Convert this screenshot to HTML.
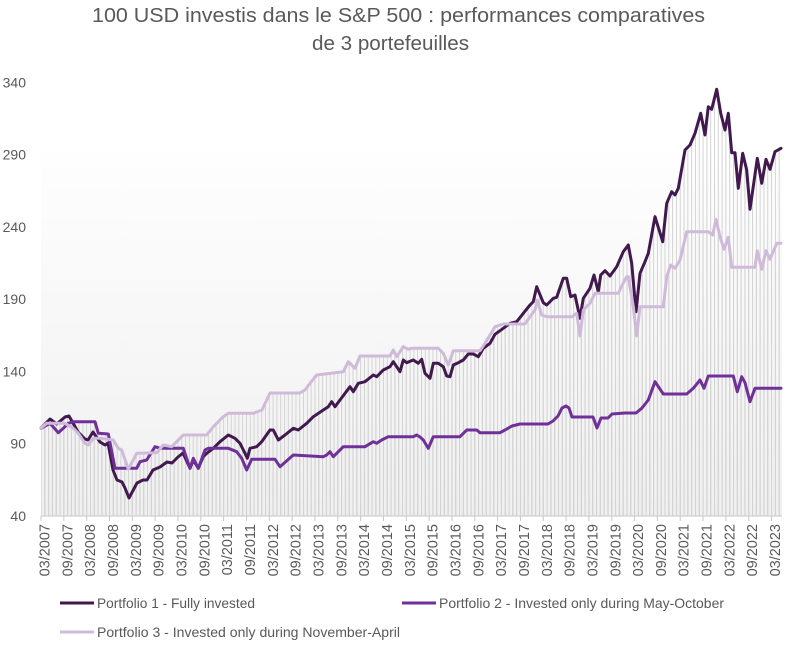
<!DOCTYPE html>
<html><head><meta charset="utf-8"><style>
html,body{margin:0;padding:0;background:#fff;}
svg{display:block;}
text{font-family:"Liberation Sans",sans-serif;fill:#595959;}
</style></head><body>
<svg width="789" height="649" viewBox="0 0 789 649" xmlns="http://www.w3.org/2000/svg">
<defs>
<linearGradient id="bg" x1="0" y1="0" x2="0" y2="1">
<stop offset="0" stop-color="#fefefe"/>
<stop offset="1" stop-color="#f0f0f0"/>
</linearGradient>
<pattern id="dl" patternUnits="userSpaceOnUse" x="40.5" y="0" width="3.805" height="10">
<rect x="0" y="0" width="1" height="10" fill="#d3d3d3"/>
</pattern>
</defs>
<rect x="0" y="0" width="789" height="649" fill="#fff"/>
<rect x="41" y="151" width="741" height="365" fill="url(#bg)"/>

<!-- title -->
<text x="92" y="22" font-size="20" textLength="613" lengthAdjust="spacingAndGlyphs">100 USD investis dans le S&amp;P 500 : performances comparatives</text>
<text x="312" y="50" font-size="20" textLength="157" lengthAdjust="spacingAndGlyphs">de 3 portefeuilles</text>

<!-- drop lines -->
<g fill="url(#dl)" stroke="none">
<polygon points="41,428 50,419 56.7,424 65,417 69,416 73,423 78,432 85,439 88,440 93,432 100,442 105,445 108,443 113,470 117,480 122,482 125,488 129,498 137,483 143,480 147,480 153,470 160,467 167,462 172,463 178,457 183,453 190,468.3 193.3,460 198.3,468.3 203.3,456.7 206.7,453.3 213.3,448.3 220,441.7 228.3,435 235,438.3 240,443.3 245,453.3 247.3,458.3 250,448.3 256.7,446.7 261.7,441.7 270,430 273.3,430 278.3,440 285,435 293.3,428.3 298.3,430 306.7,423.3 313.3,416.7 323.3,410 328.3,406.7 331.7,401.7 335,406.7 340,400 350,386.7 353.3,391.7 358.3,383.3 365,381.7 373.3,375 376.7,376.7 383.3,370 390,366.7 393.3,361.7 400,371.7 403.3,360 406.7,362.7 413.3,360 418.3,363.3 421.7,359.3 425,373.3 430,378.3 433.3,363.3 438.3,363.3 443.3,366.7 446.7,376 450,376.7 453.3,365 458.3,362.7 463.3,360 468.3,354 473.3,354 478.3,356.7 483.3,348.3 490,343.3 495,334.3 503.3,328.3 510,323.3 516.7,321.7 523.3,313.3 530,305 533.3,301.7 536.7,286.7 543.3,302.7 546.7,305 553.3,298.3 556.7,297.3 563.3,278.3 566.7,278.3 570.7,296.7 575,295 580,318.3 583.3,298.3 590,288.3 594,275 598.3,291.7 600.7,275 605,270.7 610,276 616.7,266.7 623.3,251.7 628.3,245 631.7,263.3 636,311.7 640,273.3 645,261.7 648.3,253.3 655,216.7 662.7,241.7 666.7,203.3 671.7,191.7 675,195 678.3,188.3 685,150 690,145 695,133.3 700.7,113.3 705,135 708.3,106.7 711.7,109.3 716.7,89.3 720.7,113.3 725,130 728.3,113.3 731.7,152.7 735,152.7 738.3,188.3 742.7,153.3 746.7,170 750,209.3 757.3,158.3 761.7,183.3 766,159.3 770,169.3 775,151.7 781,148.3 781,516 41,516"/>
<polygon points="41,428 46.7,423.3 51.7,423.3 65,423.3 73.3,428.3 78.3,433.3 85,443.3 88.3,445 93.3,438.3 100,438.3 113.3,440 118.3,448.3 121.7,450 128.3,469.3 136.7,453.3 156.7,452.7 163.3,445 171.7,446.7 183.3,435 206.7,435 213.3,426.7 223.3,416.7 228.3,413.3 253.3,413.3 262,410 270,393 300,393 305,390 310,383.3 316.7,375 343.3,371.7 348.3,361.7 355,368.3 360,356 390,356 393.3,350 396.7,356.7 403.3,346.7 408.3,349.3 411.7,348.3 438.3,348.3 443.3,353.3 448.3,365 453.3,350.7 480,350.7 485,343.3 495,326.7 500,325 503.3,324 525,324 530,316.7 535,310 537.3,300 541.7,315 546.7,316.7 571.7,316.7 576.7,313.3 580,336 583.3,310 590,303.3 595,293.3 618.3,293.3 622.7,284 626.7,276.7 628.3,276.7 633.3,306.7 636.7,336 640,306.7 663.3,306.7 666.7,276.7 670.7,265 675,268.3 680,260 686.7,231.7 708.3,231.7 712.7,235 716,219.3 720,236.7 724,249.3 728.3,237.3 731.7,267.3 755,267.3 757.3,250.7 761.7,269.3 766,250.7 770,259.3 776.7,243.3 781,243.3 781,516 41,516"/>
<polygon points="41,428.3 50,423.3 58.3,432.7 63.3,428.3 68.3,423.3 73.3,421.7 95,421.7 98.3,433.3 108.3,434 115,468.3 136.7,468.3 140,461.7 146.7,460 155,446.7 160,448.3 183.3,448.3 190,468.3 193.3,458.3 198.3,468.3 205,450 208.3,448.3 228.3,448.3 236.7,451.7 241.7,458.3 246.7,470 251.7,459.3 275,459.3 280,466.7 293.3,455 323.3,456.7 326.7,455 330,451.7 333.3,456.7 343.3,446.7 365,446.7 373.3,441.7 376.7,443.3 381.7,440 388.3,436.7 413.3,436.7 416.7,435 420,437 423.3,440 428.3,448.3 433.3,436.7 460,436.7 466.7,430 476.7,430 480,432.7 500,432.7 505,430 512,426 520,424 548,424 553,421 558,416 562,408 566,406 569,408 572,417 593,417 597,428 601,418 608,418 612,414 625,413 636,413 641.7,408.3 648.3,400 655,381.7 663.3,394 686.7,394 693.3,388.3 700,380 704,388.3 708.3,376 733.3,376 737.3,391.7 741.7,376.7 745,382.7 750,401.7 755,388.3 781,388.3 781,516 41,516"/>
</g>

<!-- axis -->
<line x1="41" y1="516" x2="782" y2="516" stroke="#d0d0d0" stroke-width="1.2"/>
<path stroke="#c8c8c8" stroke-width="1" fill="none" d="M41,516v5M63.83,516v5M86.66,516v5M109.49,516v5M132.32,516v5M155.15,516v5M177.98,516v5M200.81,516v5M223.64,516v5M246.47,516v5M269.3,516v5M292.13,516v5M314.96,516v5M337.79,516v5M360.62,516v5M383.45,516v5M406.28,516v5M429.11,516v5M451.94,516v5M474.77,516v5M497.6,516v5M520.43,516v5M543.26,516v5M566.09,516v5M588.92,516v5M611.75,516v5M634.58,516v5M657.41,516v5M680.24,516v5M703.07,516v5M725.9,516v5M748.73,516v5M771.56,516v5"/>

<!-- series -->
<g fill="none" stroke-width="3" stroke-linejoin="round" stroke-linecap="round">
<polyline stroke="#41194f" points="41,428 50,419 56.7,424 65,417 69,416 73,423 78,432 85,439 88,440 93,432 100,442 105,445 108,443 113,470 117,480 122,482 125,488 129,498 137,483 143,480 147,480 153,470 160,467 167,462 172,463 178,457 183,453 190,468.3 193.3,460 198.3,468.3 203.3,456.7 206.7,453.3 213.3,448.3 220,441.7 228.3,435 235,438.3 240,443.3 245,453.3 247.3,458.3 250,448.3 256.7,446.7 261.7,441.7 270,430 273.3,430 278.3,440 285,435 293.3,428.3 298.3,430 306.7,423.3 313.3,416.7 323.3,410 328.3,406.7 331.7,401.7 335,406.7 340,400 350,386.7 353.3,391.7 358.3,383.3 365,381.7 373.3,375 376.7,376.7 383.3,370 390,366.7 393.3,361.7 400,371.7 403.3,360 406.7,362.7 413.3,360 418.3,363.3 421.7,359.3 425,373.3 430,378.3 433.3,363.3 438.3,363.3 443.3,366.7 446.7,376 450,376.7 453.3,365 458.3,362.7 463.3,360 468.3,354 473.3,354 478.3,356.7 483.3,348.3 490,343.3 495,334.3 503.3,328.3 510,323.3 516.7,321.7 523.3,313.3 530,305 533.3,301.7 536.7,286.7 543.3,302.7 546.7,305 553.3,298.3 556.7,297.3 563.3,278.3 566.7,278.3 570.7,296.7 575,295 580,318.3 583.3,298.3 590,288.3 594,275 598.3,291.7 600.7,275 605,270.7 610,276 616.7,266.7 623.3,251.7 628.3,245 631.7,263.3 636,311.7 640,273.3 645,261.7 648.3,253.3 655,216.7 662.7,241.7 666.7,203.3 671.7,191.7 675,195 678.3,188.3 685,150 690,145 695,133.3 700.7,113.3 705,135 708.3,106.7 711.7,109.3 716.7,89.3 720.7,113.3 725,130 728.3,113.3 731.7,152.7 735,152.7 738.3,188.3 742.7,153.3 746.7,170 750,209.3 757.3,158.3 761.7,183.3 766,159.3 770,169.3 775,151.7 781,148.3"/>
<polyline stroke="#70309a" points="41,428.3 50,423.3 58.3,432.7 63.3,428.3 68.3,423.3 73.3,421.7 95,421.7 98.3,433.3 108.3,434 115,468.3 136.7,468.3 140,461.7 146.7,460 155,446.7 160,448.3 183.3,448.3 190,468.3 193.3,458.3 198.3,468.3 205,450 208.3,448.3 228.3,448.3 236.7,451.7 241.7,458.3 246.7,470 251.7,459.3 275,459.3 280,466.7 293.3,455 323.3,456.7 326.7,455 330,451.7 333.3,456.7 343.3,446.7 365,446.7 373.3,441.7 376.7,443.3 381.7,440 388.3,436.7 413.3,436.7 416.7,435 420,437 423.3,440 428.3,448.3 433.3,436.7 460,436.7 466.7,430 476.7,430 480,432.7 500,432.7 505,430 512,426 520,424 548,424 553,421 558,416 562,408 566,406 569,408 572,417 593,417 597,428 601,418 608,418 612,414 625,413 636,413 641.7,408.3 648.3,400 655,381.7 663.3,394 686.7,394 693.3,388.3 700,380 704,388.3 708.3,376 733.3,376 737.3,391.7 741.7,376.7 745,382.7 750,401.7 755,388.3 781,388.3"/>
<polyline stroke="#cfbbd9" points="41,428 46.7,423.3 51.7,423.3 65,423.3 73.3,428.3 78.3,433.3 85,443.3 88.3,445 93.3,438.3 100,438.3 113.3,440 118.3,448.3 121.7,450 128.3,469.3 136.7,453.3 156.7,452.7 163.3,445 171.7,446.7 183.3,435 206.7,435 213.3,426.7 223.3,416.7 228.3,413.3 253.3,413.3 262,410 270,393 300,393 305,390 310,383.3 316.7,375 343.3,371.7 348.3,361.7 355,368.3 360,356 390,356 393.3,350 396.7,356.7 403.3,346.7 408.3,349.3 411.7,348.3 438.3,348.3 443.3,353.3 448.3,365 453.3,350.7 480,350.7 485,343.3 495,326.7 500,325 503.3,324 525,324 530,316.7 535,310 537.3,300 541.7,315 546.7,316.7 571.7,316.7 576.7,313.3 580,336 583.3,310 590,303.3 595,293.3 618.3,293.3 622.7,284 626.7,276.7 628.3,276.7 633.3,306.7 636.7,336 640,306.7 663.3,306.7 666.7,276.7 670.7,265 675,268.3 680,260 686.7,231.7 708.3,231.7 712.7,235 716,219.3 720,236.7 724,249.3 728.3,237.3 731.7,267.3 755,267.3 757.3,250.7 761.7,269.3 766,250.7 770,259.3 776.7,243.3 781,243.3"/>
</g>

<!-- y labels -->
<g font-size="14" text-anchor="end">
<text x="26" y="87.3">340</text>
<text x="26" y="159.6">290</text>
<text x="26" y="231.8">240</text>
<text x="26" y="304.1">190</text>
<text x="26" y="376.3">140</text>
<text x="26" y="448.6">90</text>
<text x="26" y="520.8">40</text>
</g>

<!-- x labels -->
<g font-size="14.5" text-anchor="end">
<text transform="translate(49.5,524) rotate(-90)">03/2007</text>
<text transform="translate(72.33,524) rotate(-90)">09/2007</text>
<text transform="translate(95.16,524) rotate(-90)">03/2008</text>
<text transform="translate(117.99,524) rotate(-90)">09/2008</text>
<text transform="translate(140.82,524) rotate(-90)">03/2009</text>
<text transform="translate(163.65,524) rotate(-90)">09/2009</text>
<text transform="translate(186.48,524) rotate(-90)">03/2010</text>
<text transform="translate(209.31,524) rotate(-90)">09/2010</text>
<text transform="translate(232.14,524) rotate(-90)">03/2011</text>
<text transform="translate(254.97,524) rotate(-90)">09/2011</text>
<text transform="translate(277.8,524) rotate(-90)">03/2012</text>
<text transform="translate(300.63,524) rotate(-90)">09/2012</text>
<text transform="translate(323.46,524) rotate(-90)">03/2013</text>
<text transform="translate(346.29,524) rotate(-90)">09/2013</text>
<text transform="translate(369.12,524) rotate(-90)">03/2014</text>
<text transform="translate(391.95,524) rotate(-90)">09/2014</text>
<text transform="translate(414.78,524) rotate(-90)">03/2015</text>
<text transform="translate(437.61,524) rotate(-90)">09/2015</text>
<text transform="translate(460.44,524) rotate(-90)">03/2016</text>
<text transform="translate(483.27,524) rotate(-90)">09/2016</text>
<text transform="translate(506.1,524) rotate(-90)">03/2017</text>
<text transform="translate(528.93,524) rotate(-90)">09/2017</text>
<text transform="translate(551.76,524) rotate(-90)">03/2018</text>
<text transform="translate(574.59,524) rotate(-90)">09/2018</text>
<text transform="translate(597.42,524) rotate(-90)">03/2019</text>
<text transform="translate(620.25,524) rotate(-90)">09/2019</text>
<text transform="translate(643.08,524) rotate(-90)">03/2020</text>
<text transform="translate(665.91,524) rotate(-90)">09/2020</text>
<text transform="translate(688.74,524) rotate(-90)">03/2021</text>
<text transform="translate(711.57,524) rotate(-90)">09/2021</text>
<text transform="translate(734.4,524) rotate(-90)">03/2022</text>
<text transform="translate(757.23,524) rotate(-90)">09/2022</text>
<text transform="translate(780.06,524) rotate(-90)">03/2023</text>
</g>

<!-- legend -->
<g stroke-width="3">
<line x1="60" y1="603" x2="94" y2="603" stroke="#41194f"/>
<line x1="402" y1="603" x2="436" y2="603" stroke="#70309a"/>
<line x1="60" y1="632" x2="94" y2="632" stroke="#cfbbd9"/>
</g>
<g font-size="14">
<text x="97" y="608" textLength="158" lengthAdjust="spacingAndGlyphs">Portfolio 1 - Fully invested</text>
<text x="439" y="608" textLength="285" lengthAdjust="spacingAndGlyphs">Portfolio 2 - Invested only during May-October</text>
<text x="97" y="637" textLength="303" lengthAdjust="spacingAndGlyphs">Portfolio 3 - Invested only during November-April</text>
</g>
</svg>
</body></html>
